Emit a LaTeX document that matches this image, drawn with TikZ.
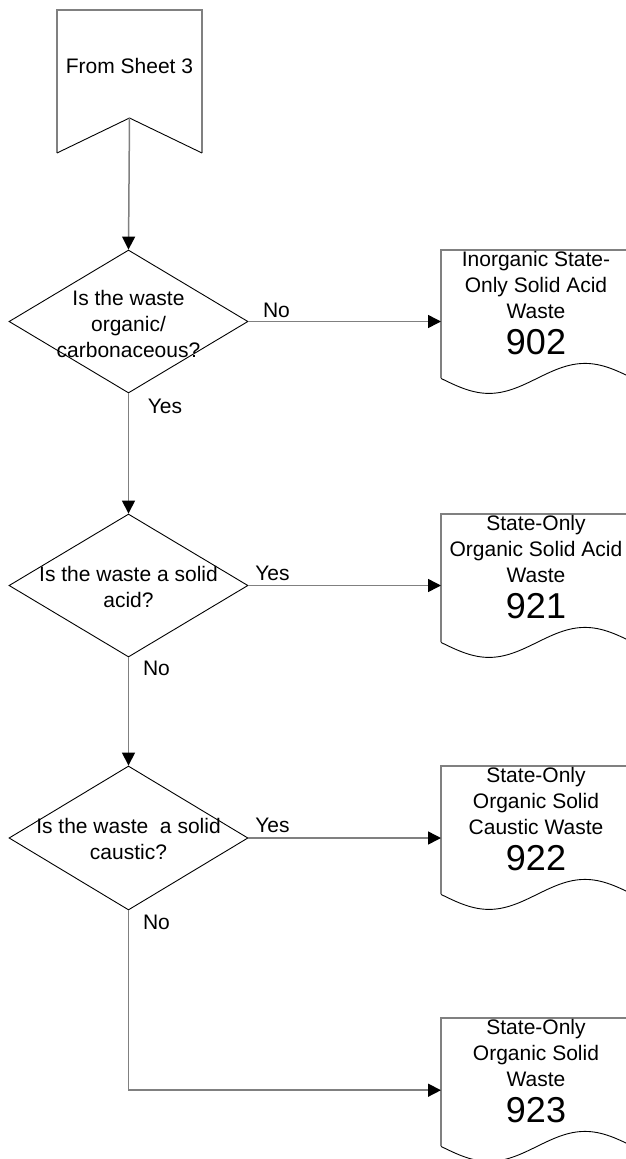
\documentclass[tikz,border=0pt]{standalone}
\usepackage{fontspec}
\setmainfont{Liberation Sans}
\usetikzlibrary{arrows.meta,shapes.geometric,calc}
\definecolor{lgray}{RGB}{128,128,128}
\newcommand{\docshape}[2]{%
  \node[docarea] (#1) at (441,#2) {};
  \draw[edgeline] (#1.south west) -- (#1.north west) -- (#1.north east) -- (#1.south east);
  \draw[curveline] (#1.south west) sin ++(48,15) cos ++(48,-15) sin ++(48,-15) cos ++(48,15);
}
\begin{document}
\begin{tikzpicture}[x=1pt,y=-1pt,
  conn/.style={draw=lgray,line width=1.5pt,-{Triangle[length=13pt,width=13pt,color=black,fill=black]}},
  dec/.style={shape=diamond,draw=black,line width=0.9pt,minimum width=239pt,minimum height=143pt,inner sep=0pt},
  txt/.style={font=\fontsize{21}{26}\selectfont,align=center,inner sep=0pt},
  num/.style={font=\fontsize{36}{40}\selectfont,inner sep=0pt},
  lbl/.style={font=\fontsize{21}{26}\selectfont,inner sep=0pt},
  docarea/.style={shape=rectangle,inner sep=0pt,minimum width=192pt,minimum height=128pt,anchor=north west},
  edgeline/.style={draw=lgray,line width=1.5pt},
  curveline/.style={draw=black,line width=0.9pt},
]
\useasboundingbox[fill=white] (0,0) rectangle (626,1159);

% off-page connector
\draw[edgeline] (57,153) -- (57,10) -- (202,10) -- (202,153);
\draw[curveline] (57,153) -- (129.5,118) coordinate (fsb) -- (202,153);
\node[txt] (fs) at (129.5,66) {From Sheet 3};

% decisions
\node[dec] (d1) at (128.5,321.5) {};
\node[txt] (d1t) at (128.5,324) {Is the waste\\organic/\\carbonaceous?};
\node[dec] (d2) at (128.5,585.5) {};
\node[txt] (d2t) at (128.5,586.5) {Is the waste a solid\\acid?};
\node[dec,minimum height=144pt] (d3) at (128.5,838) {};
\node[txt] (d3t) at (128.5,839) {Is the waste\ \ a solid\\caustic?};

% documents
\docshape{d902}{250}
\node[txt] (d902t) at (536,284.5) {Inorganic State-\\Only Solid Acid\\Waste};
\node[num] (d902n) at (536,342.5) {902};
\docshape{d921}{514}
\node[txt] (d921t) at (536,548.5) {State-Only\\Organic Solid Acid\\Waste};
\node[num] (d921n) at (536,606.5) {921};
\docshape{d922}{766}
\node[txt] (d922t) at (536,800.5) {State-Only\\Organic Solid\\Caustic Waste};
\node[num] (d922n) at (536,858.5) {922};
\docshape{d923}{1018}
\node[txt] (d923t) at (536,1052.5) {State-Only\\Organic Solid\\Waste};
\node[num] (d923n) at (536,1110.5) {923};

% connectors
\draw[conn] (fsb) -- (d1.north);
\draw[conn] (d1.east) -- (d1.east -| d902.west);
\draw[conn] (d1.south) -- (d2.north);
\draw[conn] (d2.east) -- (d2.east -| d921.west);
\draw[conn] (d2.south) -- (d3.north);
\draw[conn] (d3.east) -- (d3.east -| d922.west);
\draw[conn] (d3.south) |- ([yshift=-8pt]d923.west);

% labels
\node[lbl] (l1) at (276.5,310) {No};
\node[lbl] (l2) at (165,406) {Yes};
\node[lbl] (l3) at (272.5,573) {Yes};
\node[lbl] (l4) at (156.5,668) {No};
\node[lbl] (l5) at (272.5,825) {Yes};
\node[lbl] (l6) at (156.5,922) {No};
\end{tikzpicture}
\end{document}
